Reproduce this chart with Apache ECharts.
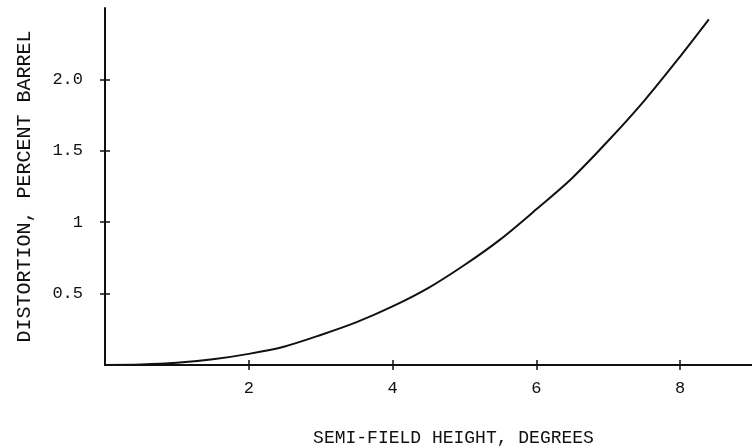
<!DOCTYPE html>
<html><head><meta charset="utf-8">
<script src="https://cdn.jsdelivr.net/npm/echarts@6/dist/echarts.min.js"></script>
<style>html,body{margin:0;padding:0;background:#fff}#c{width:752px;height:448px}</style>
</head><body><div id="c"></div>
<script>
var semiField = [0, 0.5, 1, 1.5, 2, 2.5, 3, 3.5, 4, 4.5, 5, 5.5, 6, 6.5, 7, 7.5, 8, 8.4];
var distortion = [0, 0.003, 0.015, 0.04, 0.078, 0.13, 0.21, 0.30, 0.41, 0.54, 0.70, 0.88, 1.09, 1.31, 1.57, 1.85, 2.16, 2.42];
var yTickValues = [0.5, 1, 1.5, 2];
var yTickLabels = ['0.5', '1', '1.5', '2.0'];
var xTickValues = [2, 4, 6, 8];
var xTickLabels = ['2', '4', '6', '8'];
var xName = 'SEMI-FIELD HEIGHT, DEGREES';
var yName = 'DISTORTION, PERCENT BARREL';

var font = '"Liberation Mono", "DejaVu Sans Mono", monospace';
var ink = '#111';
var pts = semiField.map(function (x, i) { return [x, distortion[i]]; });
function lab(vals, labels) {
  return function (v) { var i = vals.indexOf(v); return i >= 0 ? labels[i] : ''; };
}

var chart = echarts.init(document.getElementById('c'));
chart.setOption({
  animation: false,
  grid: {left: 105, right: 0, top: 8, bottom: 83, containLabel: false, outerBoundsMode: 'none'},
  xAxis: [{
    type: 'value', min: 0, max: 9,
    name: xName, nameLocation: 'middle', nameGap: 64,
    nameTextStyle: {fontFamily: font, fontSize: 18, color: ink, padding: [0, 0, 0, 50]},
    axisLine: {show: true, lineStyle: {color: ink, width: 2}},
    axisTick: {show: false},
    axisLabel: {margin: 15, fontFamily: font, fontSize: 17, color: ink,
      customValues: xTickValues, formatter: lab(xTickValues, xTickLabels)},
    splitLine: {show: false}
  }, {
    type: 'value', min: 0, max: 9, position: 'bottom', offset: -5,
    axisLine: {show: false},
    axisTick: {show: true, length: 10, customValues: xTickValues, lineStyle: {color: ink, width: 1.5}},
    axisLabel: {show: false}, splitLine: {show: false}
  }],
  yAxis: [{
    type: 'value', min: 0, max: 2.5,
    name: yName, nameLocation: 'middle', nameGap: 70, nameRotate: 90,
    nameTextStyle: {fontFamily: font, fontSize: 20, color: ink},
    axisLine: {show: true, lineStyle: {color: ink, width: 2}},
    axisTick: {show: false},
    axisLabel: {margin: 22, fontFamily: font, fontSize: 17, color: ink,
      customValues: yTickValues, formatter: lab(yTickValues, yTickLabels)},
    splitLine: {show: false}
  }, {
    type: 'value', min: 0, max: 2.5, position: 'left', offset: -5,
    axisLine: {show: false},
    axisTick: {show: true, length: 10, customValues: yTickValues, lineStyle: {color: ink, width: 1.5}},
    axisLabel: {show: false}, splitLine: {show: false}
  }],
  series: [{
    type: 'line', data: pts, smooth: 0.3, showSymbol: false,
    lineStyle: {color: ink, width: 2}
  }]
});
</script></body></html>
